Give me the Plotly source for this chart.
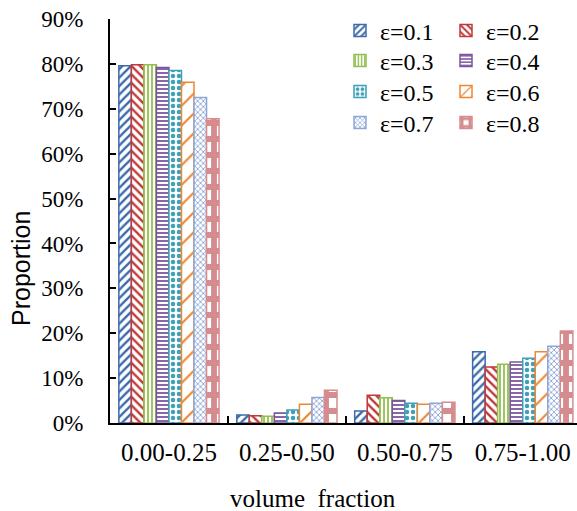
import plotly.graph_objects as go

categories = ["0.00-0.25", "0.25-0.50", "0.50-0.75", "0.75-1.00"]
series_names = ["ε=0.1", "ε=0.2", "ε=0.3", "ε=0.4", "ε=0.5", "ε=0.6", "ε=0.7", "ε=0.8"]
eps_01 = [0.796, 0.018, 0.027, 0.159]
eps_02 = [0.798, 0.016, 0.062, 0.125]
eps_03 = [0.798, 0.015, 0.056, 0.131]
eps_04 = [0.792, 0.022, 0.050, 0.136]
eps_05 = [0.785, 0.029, 0.044, 0.144]
eps_06 = [0.759, 0.042, 0.042, 0.159]
eps_07 = [0.725, 0.057, 0.044, 0.171]
eps_08 = [0.678, 0.073, 0.046, 0.205]
values = [eps_01, eps_02, eps_03, eps_04, eps_05, eps_06, eps_07, eps_08]
y_ticks = [0, 0.1, 0.2, 0.3, 0.4, 0.5, 0.6, 0.7, 0.8, 0.9]
y_tick_text = ["0%", "10%", "20%", "30%", "40%", "50%", "60%", "70%", "80%", "90%"]

colors = ["#3D6BAA", "#C0393B", "#92C050", "#7A549F", "#3FA0B8", "#EE8632", "#8EA6D6", "#D68C8E"]
shapes = ["/", "\\", "|", "-", ".", "/", "x", "+"]
sizes = [6, 6, 4, 4, 6, 14, 4, 16]
solid = [0.4, 0.4, 0.45, 0.45, 0.45, 0.15, 0.4, 0.6]

W, H = 577, 511
L, T, B = 110, 19, 88
PW, PH = 577 - 110, 423 - 19


def px_x(x):
    return (x - 110) / PW


def px_y(y):
    return (423 - y) / PH


serif = "Liberation Serif"
fig = go.Figure()
legend_ids = ["legend", "legend2", "legend3", "legend4"]
for i, (name, vals) in enumerate(zip(series_names, values)):
    fig.add_trace(go.Bar(
        x=categories, y=vals, name=name,
        legend=legend_ids[i // 2],
        marker=dict(
            color="white",
            line=dict(color=colors[i], width=1.5),
            pattern=dict(shape=shapes[i], fgcolor=colors[i], bgcolor="white",
                         size=sizes[i], solidity=solid[i], fillmode="replace"),
        ),
    ))

row_centers = [31, 61, 92, 123]
legend_cfg = {}
for k, lid in enumerate(legend_ids):
    legend_cfg[lid] = dict(
        orientation="h", x=px_x(340), y=px_y(row_centers[k]),
        xanchor="left", yanchor="middle",
        entrywidth=61, entrywidthmode="pixels",
        font=dict(family=serif, size=24, color="black"),
        bgcolor="rgba(0,0,0,0)", traceorder="normal",
    )

fig.update_layout(
    width=W, height=H,
    margin=dict(l=L, r=0, t=T, b=B, autoexpand=False),
    paper_bgcolor="white", plot_bgcolor="white",
    barmode="group", bargap=0.15, bargroupgap=0,
    font=dict(family=serif, size=23, color="black"),
    showlegend=True,
    xaxis=dict(type="category", range=[-0.5, 3.46], showline=True, linecolor="black",
               linewidth=2, ticks="inside", tickson="boundaries", ticklen=7,
               tickwidth=2, tickcolor="black", showgrid=False, zeroline=False,
               ticklabelstandoff=6,
               tickfont=dict(family=serif, size=25, color="black")),
    yaxis=dict(range=[0, 0.9], tickmode="array", tickvals=y_ticks, ticktext=y_tick_text,
               showline=True, ticklabeloverflow="allow",
               linecolor="black", linewidth=2, ticks="inside", ticklen=6,
               tickwidth=2, tickcolor="black", showgrid=False, zeroline=False,
               ticklabelstandoff=20,
               tickfont=dict(family=serif, size=23, color="black")),
    annotations=[
        dict(text="Proportion", textangle=-90, xref="paper", yref="paper",
             x=px_x(21), y=px_y(269), showarrow=False,
             xanchor="center", yanchor="middle",
             font=dict(family="Liberation Sans", size=25, color="black")),
        dict(text="volume\u00a0\u00a0fraction", xref="paper", yref="paper",
             x=px_x(313), y=px_y(498), showarrow=False,
             xanchor="center", yanchor="middle",
             font=dict(family=serif, size=25, color="black")),
    ],
    **legend_cfg,
)

fig.write_html(
    "out.html",
    config={"displayModeBar": False},
    post_script="document.body.style.margin='0';document.body.style.overflow='hidden';",
)
